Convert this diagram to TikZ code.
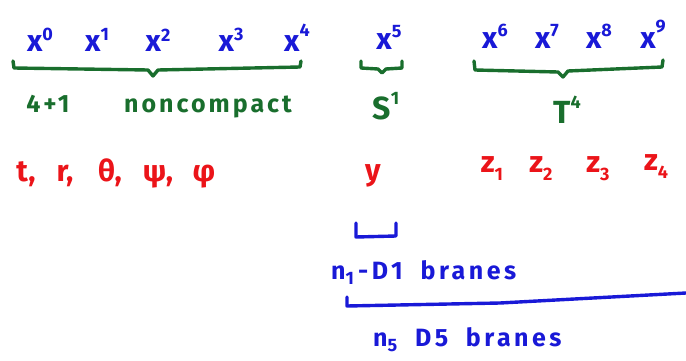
\documentclass[tikz,border=0pt]{standalone}
\usepackage{fontspec}
\setmainfont{Fira Sans}
\definecolor{hblue}{RGB}{25,25,215}
\definecolor{hgreen}{RGB}{25,110,45}
\definecolor{hred}{RGB}{235,20,25}
\newcommand{\sps}[2][9pt]{\raisebox{#1}{\fontsize{18}{18}\selectfont #2}}
\begin{document}
\begin{tikzpicture}[x=1pt,y=-1pt,
  bl/.style={text=hblue,font=\fontsize{30}{30}\selectfont\bfseries,inner sep=0pt,anchor=base},
  gr/.style={text=hgreen,font=\fontsize{25}{25}\selectfont\bfseries\addfontfeature{LetterSpace=12},inner sep=0pt,anchor=base},
  rd/.style={text=hred,font=\fontsize{30}{30}\selectfont\bfseries,inner sep=0pt,anchor=base},
  bt/.style={text=hblue,font=\fontsize{25}{25}\selectfont\bfseries\addfontfeature{LetterSpace=14},inner sep=0pt,anchor=base west},
  brace/.style={draw=hgreen,line width=3.4pt,line cap=round,line join=round},
  bline/.style={draw=hblue,line width=3.4pt,line cap=round,line join=round}]
\useasboundingbox (0,0) rectangle (686,361);
% blue coordinates
\node[bl] (x0) at (40,52) {x\sps[11pt]{0}};
\node[bl] (x1) at (97,52) {x\sps[11pt]{1}};
\node[bl] (x2) at (158,52) {x\sps[10pt]{2}};
\node[bl] (x3) at (231,52) {x\sps[11pt]{3}};
\node[bl] (x4) at (297,52) {x\sps[15pt]{4}};
\node[bl] (x5) at (389,50) {x\sps[13pt]{5}};
\node[bl] (x6) at (495,49) {x\sps[13pt]{6}};
\node[bl] (x7) at (547,49) {x\sps[13pt]{7}};
\node[bl] (x8) at (599,49) {x\sps[13pt]{8}};
\node[bl] (x9) at (653,49) {x\sps[17pt]{9}};
% green braces
\path[brace] (13,61) -- (14,68) -- (148,70) -- (153,76) -- (158,70) -- (300,67) -- (301,61);
\path[brace] (361,61) -- (361,68) -- (378,69) -- (382,73) -- (386,69) -- (402,68) -- (402,61);
\path[brace] (474,61) -- (475,70) -- (558,72) -- (563,77) -- (568,71) -- (662,67) -- (663,60);
% green labels
\node[gr] (n41) at (48,113) {4+1};
\node[gr] (nc) at (208,113) {noncompact};
\node[gr,font=\fontsize{32}{32}\selectfont\bfseries] (s1) at (386,120) {S\sps[15pt]{1}};
\node[gr,font=\fontsize{32}{32}\selectfont\bfseries] (t4) at (567,124) {T\sps[15pt]{4}};
% red coordinates
\node[rd] (t) at (26,181) {t,};
\node[rd] (r) at (65,181) {r,};
\node[rd] (th) at (110,181) {θ,};
\node[rd] (psi) at (158,181) {ψ,};
\node[rd] (phi) at (204,181) {φ};
\node[rd] (y) at (373,180) {y};
\node[rd] (z1) at (492,172) {z\sps[-8pt]{1}};
\node[rd] (z2) at (541,172) {z\sps[-8pt]{2}};
\node[rd] (z3) at (598,172) {z\sps[-8pt]{3}};
\node[rd] (z4) at (656,170) {z\sps[-8pt]{4}};
% blue brackets
\path[bline] (356,223) -- (356,237) -- (396,236) -- (396,223);
\node[bt] (d1) at (331,279) {n\sps[-5pt]{1}\,-D1\,\, branes};
\path[bline] (347,297) -- (347,306) -- (500,303) -- (686,293);
\node[bt] (d5) at (373,346) {n\sps[-5pt]{5}\,\, D5\,\, branes};
\end{tikzpicture}
\end{document}
